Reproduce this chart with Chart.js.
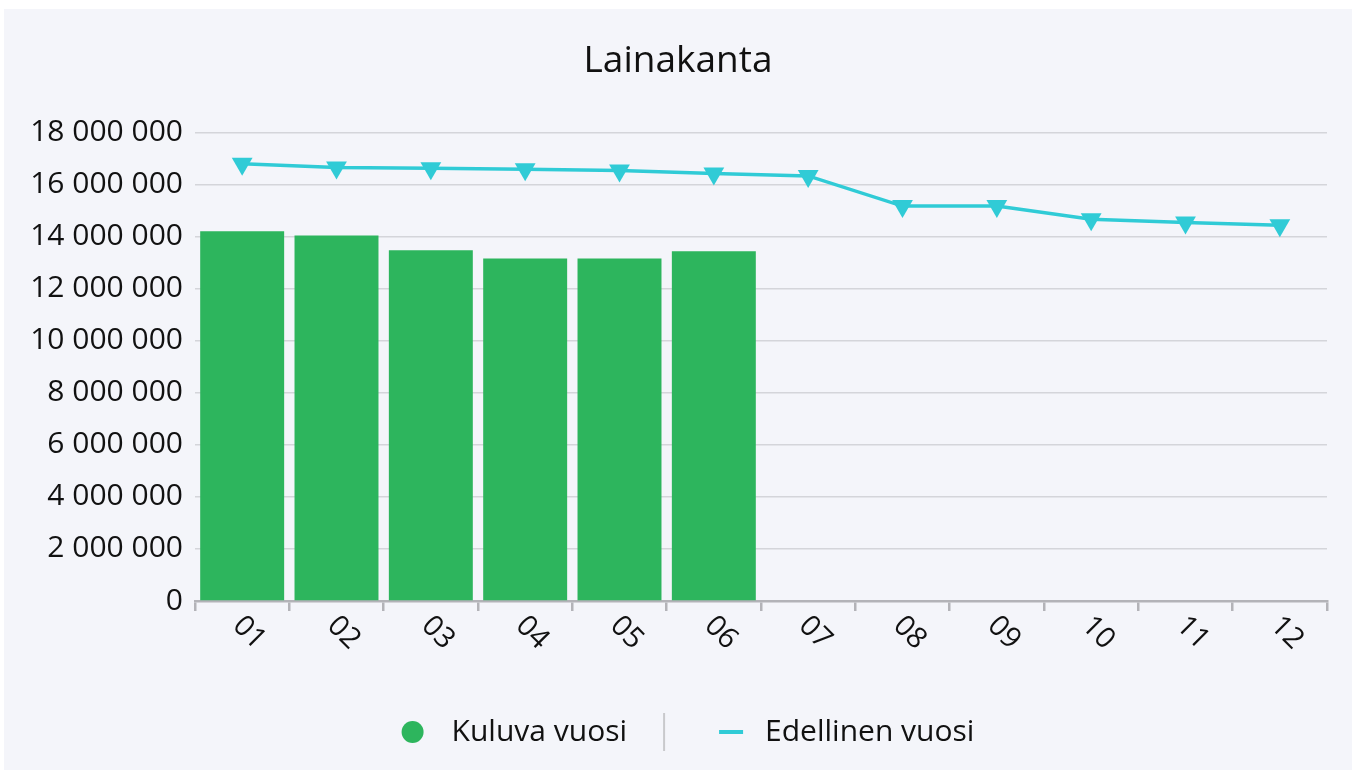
<!DOCTYPE html>
<html>
<head>
<meta charset="utf-8">
<title>Lainakanta</title>
<script src="https://cdn.jsdelivr.net/npm/chart.js@4.4.1/dist/chart.umd.min.js"></script>
<style>
  body { margin: 0; background: #ffffff; }
  #wrap { position: absolute; left: 4px; top: 9px; width: 1348px; height: 761px; background: #f4f5fa; }
</style>
</head>
<body>
<div id="wrap"><canvas id="chart" width="1348" height="761"></canvas></div>
<script>
// months and loan stock values (euros)
const months = ['01', '02', '03', '04', '05', '06', '07', '08', '09', '10', '11', '12']
const currentYear = [14200000, 14040000, 13470000, 13160000, 13160000, 13430000]
const previousYear = [16800000, 16650000, 16620000, 16580000, 16540000, 16420000, 16330000, 15170000, 15170000, 14660000, 14540000, 14430000]
const yTicks = [0, 2000000, 4000000, 6000000, 8000000, 10000000, 12000000, 14000000, 16000000, 18000000]

const green = '#2db55d'
const cyan = '#30cbd6'
const fontFamily = '"Open Sans", sans-serif'

function spaced(n) {
  return String(n).replace(/\B(?=(\d{3})+(?!\d))/g, ' ')
}

// rotated month labels under the x axis (clockwise, like the original)
const monthLabels = {
  id: 'monthLabels',
  afterDraw(chart) {
    const ctx = chart.ctx
    const x = chart.scales.x
    ctx.save()
    ctx.fillStyle = '#111'
    ctx.font = '29px ' + fontFamily
    ctx.textAlign = 'center'
    ctx.textBaseline = 'middle'
    months.forEach((m, i) => {
      ctx.save()
      ctx.translate(x.getPixelForTick(i) + 7, x.top + 32)
      ctx.rotate(Math.PI / 4)
      ctx.fillText(m, 0, 0)
      ctx.restore()
    })
    ctx.restore()
  }
}

// legend with a separator between the two items
const bottomLegend = {
  id: 'bottomLegend',
  afterDraw(chart) {
    const ctx = chart.ctx
    const bars = chart.data.datasets.find(d => d.type !== 'line')
    const line = chart.data.datasets.find(d => d.type === 'line')
    const y = 723
    ctx.save()
    ctx.font = '30px ' + fontFamily
    ctx.textBaseline = 'middle'
    const w1 = ctx.measureText(bars.label).width
    const w2 = ctx.measureText(line.label).width
    const total = 22 + 28 + w1 + 37 + 55 + 24 + 22 + w2
    let cx = 684 - total / 2
    ctx.fillStyle = green
    ctx.beginPath()
    ctx.arc(cx + 11, y, 11, 0, Math.PI * 2)
    ctx.fill()
    cx += 50
    ctx.fillStyle = '#111'
    ctx.fillText(bars.label, cx, y)
    cx += w1 + 37
    ctx.strokeStyle = '#c9c9cc'
    ctx.lineWidth = 2
    ctx.beginPath()
    ctx.moveTo(cx, y - 19)
    ctx.lineTo(cx, y + 19)
    ctx.stroke()
    cx += 55
    ctx.strokeStyle = cyan
    ctx.lineWidth = 4
    ctx.beginPath()
    ctx.moveTo(cx, y)
    ctx.lineTo(cx + 24, y)
    ctx.stroke()
    cx += 46
    ctx.fillText(line.label, cx, y)
    ctx.restore()
  }
}

new Chart(document.getElementById('chart'), {
  type: 'bar',
  data: {
    labels: months,
    datasets: [
      {
        type: 'line',
        label: 'Edellinen vuosi',
        data: previousYear,
        borderColor: cyan,
        backgroundColor: cyan,
        borderWidth: 3.5,
        tension: 0,
        pointStyle: 'triangle',
        rotation: 180,
        pointRadius: 12,
        pointHoverRadius: 12,
        pointBorderWidth: 0,
        order: 0
      },
      {
        label: 'Kuluva vuosi',
        data: currentYear,
        backgroundColor: green,
        borderWidth: 0,
        barPercentage: 0.89,
        categoryPercentage: 1,
        order: 1
      }
    ]
  },
  options: {
    responsive: false,
    animation: false,
    devicePixelRatio: 1,
    layout: { padding: { left: 25, right: 25, top: 0, bottom: 159 } },
    plugins: {
      legend: { display: false },
      tooltip: { enabled: false },
      title: {
        display: true,
        text: 'Lainakanta',
        color: '#111',
        font: { family: fontFamily, size: 37, weight: 'normal' },
        padding: { top: 30, bottom: 49 }
      }
    },
    scales: {
      x: {
        offset: true,
        grid: { offset: true, drawOnChartArea: false, drawTicks: true, tickLength: 10, tickColor: '#b3b3b8', lineWidth: 2.5 },
        border: { color: '#b3b3b8', width: 2.5 },
        ticks: { display: false }
      },
      y: {
        min: 0,
        max: 18000000,
        afterBuildTicks(scale) {
          scale.ticks = yTicks.map(v => ({ value: v }))
        },
        afterFit(scale) {
          scale.width = 166
        },
        grid: { color: '#d4d5da', lineWidth: 1.5, drawTicks: false },
        border: { display: false },
        ticks: {
          color: '#111',
          padding: 12,
          font: { family: fontFamily, size: 30 },
          callback: (v) => spaced(v)
        }
      }
    }
  },
  plugins: [monthLabels, bottomLegend]
})
</script>
</body>
</html>
